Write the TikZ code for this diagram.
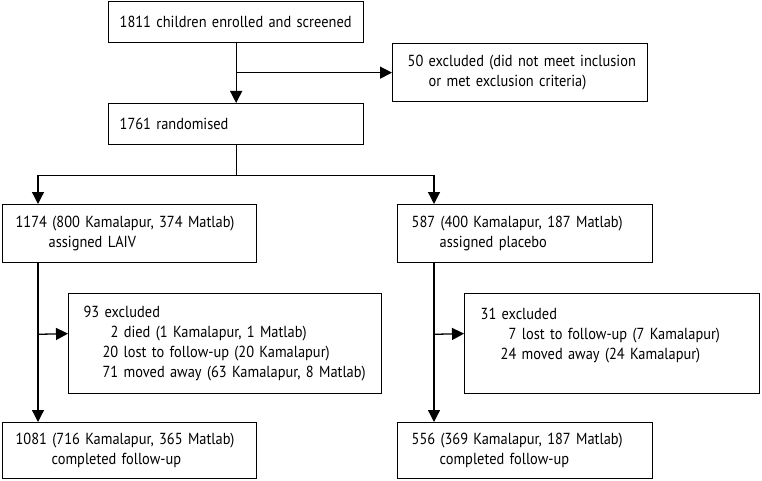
\documentclass[tikz,border=0pt]{standalone}
\usepackage{fontspec}
\setmainfont{PT Sans}[FakeStretch=0.9]
\usetikzlibrary{arrows.meta}
\tikzset{
  box/.style={draw, line width=1.3pt, anchor=north west, inner ysep=0pt, align=left,
    font=\fontsize{16}{20}\selectfont},
  arr/.style={line width=1.3pt, -{Triangle[length=12pt,width=12pt]}},
  ln/.style={line width=1.3pt}
}
\begin{document}
\begin{tikzpicture}[x=1pt,y=-1pt]
\useasboundingbox (0,0) rectangle (762,481);
\node[box, minimum width=255pt, minimum height=41pt, inner xsep=11pt, text width=233pt] (A) at (108,1)
  {\mbox{1811 children enrolled and screened}};
\node[box, minimum width=255pt, minimum height=58pt, inner xsep=15pt, text width=225pt] (E) at (392,43)
  {\mbox{50 excluded (did not meet inclusion}\\\mbox{\hspace{21pt}or met exclusion criteria)}};
\node[box, minimum width=255pt, minimum height=41pt, inner xsep=11pt, text width=233pt] (B) at (108,103)
  {\mbox{1761 randomised}};
\node[box, minimum width=254pt, minimum height=58pt, inner xsep=13pt, text width=228pt] (C) at (2,204)
  {\mbox{1174 (800 Kamalapur, 374 Matlab)}\\\mbox{\hspace{33pt}assigned LAIV}};
\node[box, minimum width=255pt, minimum height=58pt, inner xsep=14pt, text width=227pt] (D) at (397,204)
  {\mbox{587 (400 Kamalapur, 187 Matlab)}\\\mbox{\hspace{28pt}assigned placebo}};
\node[box, minimum width=313pt, minimum height=100pt, inner xsep=15pt, text width=283pt] (F) at (68,293)
  {\mbox{93 excluded}\\\mbox{\hspace{27pt}2 died (1 Kamalapur, 1 Matlab)}\\\mbox{\hspace{19pt}20 lost to follow-up (20 Kamalapur)}\\\mbox{\hspace{19pt}71 moved away (63 Kamalapur, 8 Matlab)}};
\node[box, minimum width=295pt, minimum height=100pt, inner xsep=16pt, text width=263pt] (G) at (464,293)
  {\mbox{31 excluded}\\\mbox{\hspace{28pt}7 lost to follow-up (7 Kamalapur)}\\\mbox{\hspace{20pt}24 moved away (24 Kamalapur)}\\\mbox{}};
\node[box, minimum width=254pt, minimum height=56pt, inner xsep=13pt, text width=228pt] (H) at (2,422)
  {\mbox{1081 (716 Kamalapur, 365 Matlab)}\\\mbox{\hspace{36pt}completed follow-up}};
\node[box, minimum width=255pt, minimum height=56pt, inner xsep=14pt, text width=227pt] (I) at (397,422)
  {\mbox{556 (369 Kamalapur, 187 Matlab)}\\\mbox{\hspace{28pt}completed follow-up}};
% connectors
\draw[arr] (A.south) -- (B.north);
\draw[arr] (A.south |- E.west) -- (E.west);
\coordinate (split) at ([yshift=-30pt]B.south);
\draw[ln] (B.south) -- (split);
\draw[arr] (split) -| ([xshift=36pt]C.north west);
\draw[arr] (split) -| ([xshift=37pt]D.north west);
\draw[arr] ([xshift=36pt]C.south west) -- ([xshift=36pt]H.north west);
\draw[arr] ([xshift=36pt,yshift=-71pt]C.south west) -- ([yshift=10pt]F.west);
\draw[arr] ([xshift=37pt]D.south west) -- ([xshift=37pt]I.north west);
\draw[arr] ([xshift=37pt,yshift=-71pt]D.south west) -- ([yshift=10pt]G.west);
\end{tikzpicture}
\end{document}
